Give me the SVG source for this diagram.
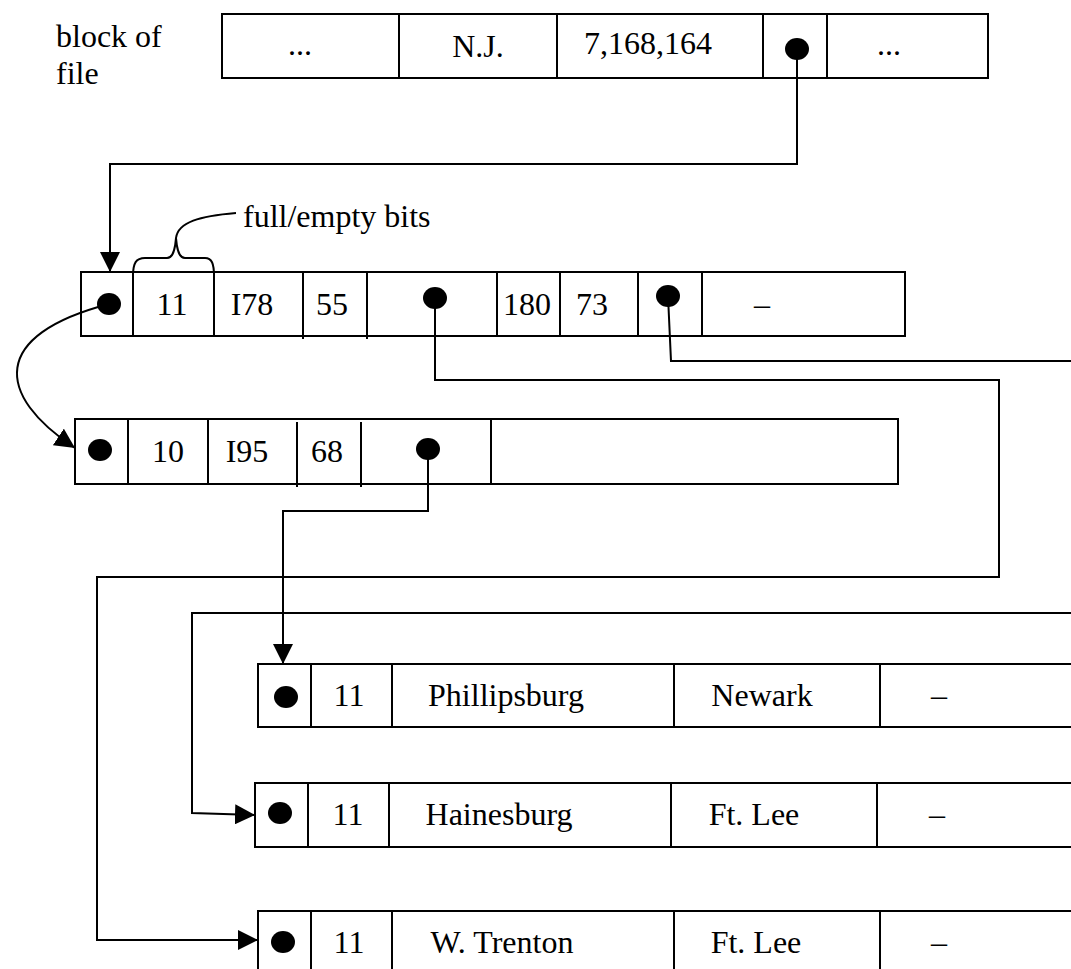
<svg xmlns="http://www.w3.org/2000/svg" width="1071" height="969" viewBox="0 0 1071 969">
<style>
.box{fill:#fff;stroke:#000;stroke-width:2}
.div{stroke:#000;stroke-width:2;fill:none}
.t{font-family:"Liberation Serif","Times New Roman",serif;font-size:32px;fill:#000}
.m{text-anchor:middle}
.dot{fill:#000}
.c{fill:none;stroke:#000;stroke-width:2}
</style>
<defs>
<marker id="ah" markerUnits="userSpaceOnUse" markerWidth="20" markerHeight="20" refX="20" refY="10" orient="auto"><path d="M0,0 L20,10 L0,20 z" fill="#000"/></marker>
</defs>
<rect width="1071" height="969" fill="#fff"/>

<g id="label-block">
<text class="t" x="56" y="47">block of</text>
<text class="t" x="56" y="84">file</text>
</g>

<g id="file-block">
<rect class="box" x="222" y="14" width="766" height="64"/>
<path class="div" d="M399,14V78M557,14V78M763,14V78M827,14V78"/>
<text class="t m" x="300" y="55">...</text>
<text class="t m" x="478" y="57">N.J.</text>
<text class="t m" x="648" y="54">7,168,164</text>
<text class="t m" x="889" y="55">...</text>
<ellipse class="dot" cx="797" cy="49" rx="12" ry="11"/>
</g>

<g id="note-fullempty">
<path class="c" d="M133,276 C133,263 136,258 145,258 L167,258 C173,258 175,250 176,238 C177,250 179,258 185,258 L205,258 C212,258 214,264 214,276"/>
<path class="c" d="M176,238 C178,222 200,216 236,213"/>
<text class="t" x="243" y="227">full/empty bits</text>
</g>

<g id="bucket-i78">
<rect class="box" x="81" y="272" width="824" height="64"/>
<path class="div" d="M133,272V336M214,272V336M303,272V339M367,272V339M497,272V336M560,272V336M638,272V336M702,272V336"/>
<ellipse class="dot" cx="109" cy="304" rx="12" ry="11"/>
<text class="t m" x="172" y="315">11</text>
<text class="t m" x="252" y="315">I78</text>
<text class="t m" x="332" y="315">55</text>
<ellipse class="dot" cx="435" cy="298" rx="12" ry="11"/>
<text class="t m" x="527" y="315">180</text>
<text class="t m" x="592" y="315">73</text>
<ellipse class="dot" cx="668" cy="296" rx="12" ry="11"/>
<text class="t m" x="762" y="315">–</text>
</g>

<g id="bucket-i95">
<rect class="box" x="75" y="419" width="823" height="65"/>
<path class="div" d="M128,419V484M208,419V484M297,422V487M361,422V487M491,419V484"/>
<ellipse class="dot" cx="100" cy="450" rx="12" ry="11"/>
<text class="t m" x="168" y="462">10</text>
<text class="t m" x="247" y="462">I95</text>
<text class="t m" x="327" y="462">68</text>
<ellipse class="dot" cx="428" cy="449" rx="12" ry="11"/>
</g>

<g id="rec-phillipsburg">
<rect class="box" x="258" y="664" width="840" height="63"/>
<path class="div" d="M311,664V727M392,664V727M674,664V727M880,664V727"/>
<ellipse class="dot" cx="286" cy="697" rx="12" ry="11"/>
<text class="t m" x="349" y="706">11</text>
<text class="t m" x="506" y="706">Phillipsburg</text>
<text class="t m" x="762" y="706">Newark</text>
<text class="t m" x="939" y="706">–</text>
</g>

<g id="rec-hainesburg">
<rect class="box" x="255" y="783" width="840" height="64"/>
<path class="div" d="M308,783V847M389,783V847M671,783V847M877,783V847"/>
<ellipse class="dot" cx="280" cy="813" rx="12" ry="11"/>
<text class="t m" x="348" y="825">11</text>
<text class="t m" x="499" y="825">Hainesburg</text>
<text class="t m" x="754" y="825">Ft. Lee</text>
<text class="t m" x="937" y="825">–</text>
</g>

<g id="rec-wtrenton">
<rect class="box" x="258" y="911" width="840" height="80"/>
<path class="div" d="M311,911V980M392,911V980M674,911V980M880,911V980"/>
<ellipse class="dot" cx="283" cy="942" rx="12" ry="11"/>
<text class="t m" x="349" y="953">11</text>
<text class="t m" x="502" y="953">W. Trenton</text>
<text class="t m" x="756" y="953">Ft. Lee</text>
<text class="t m" x="939" y="953">–</text>
</g>

<g id="connectors">
<path class="c" d="M797,49 V164 H110 V272" marker-end="url(#ah)"/>
<path class="c" d="M109,304 C-10,335 -5,395 75,448" marker-end="url(#ah)"/>
<path class="c" d="M435,298 V380 H999 V577 H97 V940 H258" marker-end="url(#ah)"/>
<path class="c" d="M668,296 L671,361 H1095 V613 H192 V813 L255,815" marker-end="url(#ah)"/>
<path class="c" d="M428,449 V511 H283 V664" marker-end="url(#ah)"/>
</g>
</svg>
